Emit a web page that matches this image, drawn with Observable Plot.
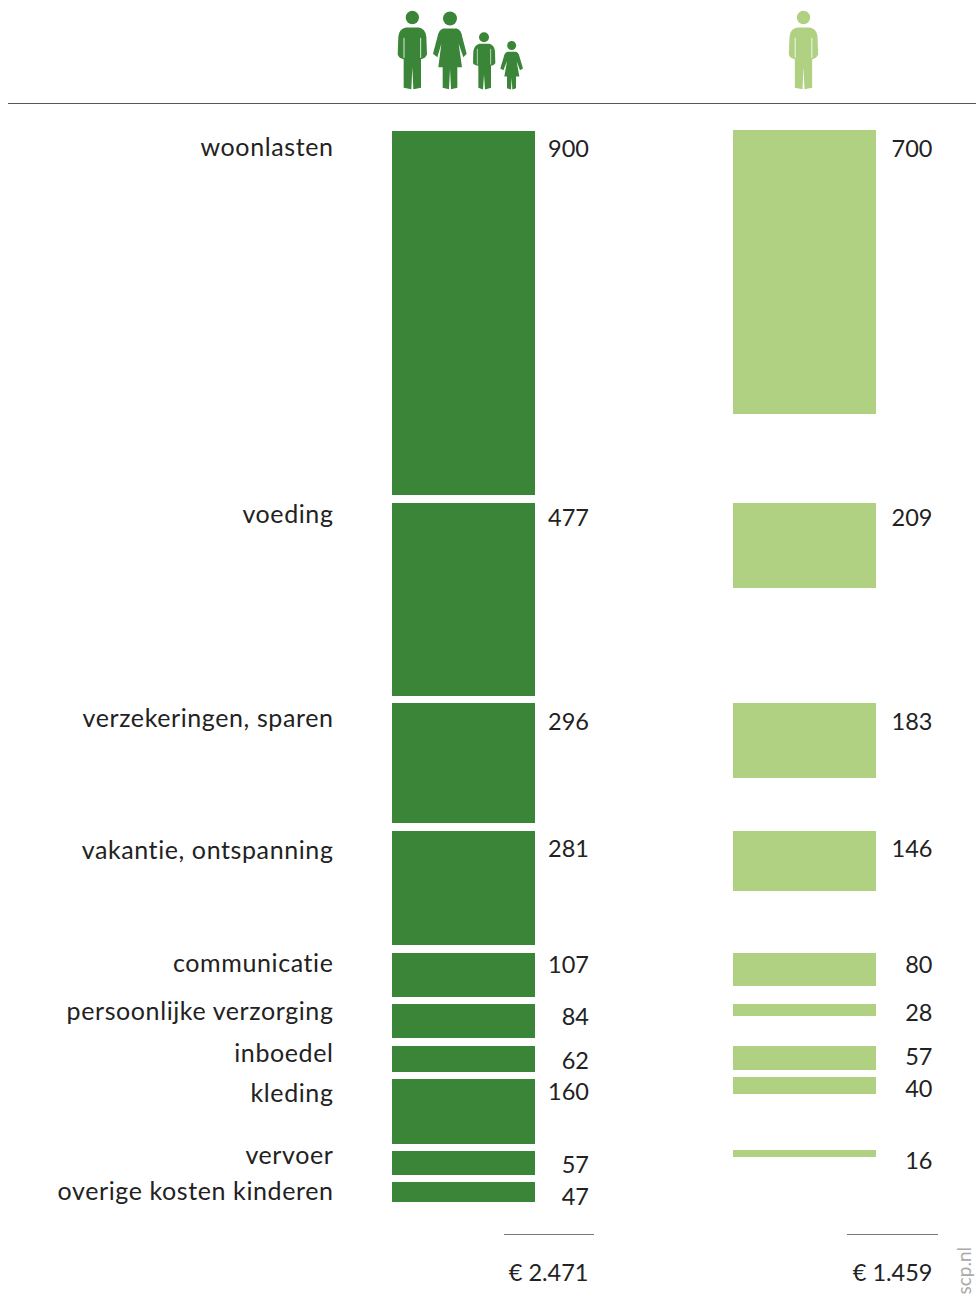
<!DOCTYPE html>
<html><head><meta charset="utf-8">
<style>html,body{margin:0;padding:0;background:#fff}svg{display:block}
.catlabel text{letter-spacing:0.6px;font-variant-ligatures:none}</style>
<script src="https://cdn.jsdelivr.net/npm/d3@7"></script>
<script src="https://cdn.jsdelivr.net/npm/@observablehq/plot@0.6"></script>
</head><body><div id="chart"></div>
<script>
// DATA
const categories = ["woonlasten","voeding","verzekeringen, sparen","vakantie, ontspanning","communicatie","persoonlijke verzorging","inboedel","kleding","vervoer","overige kosten kinderen"];
const gezin = [900,477,296,281,107,84,62,160,57,47];
const alleenstaand = [700,209,183,146,80,28,57,40,16,null];
const columns = ["gezin","alleenstaand"];
const totals = ["€ 2.471","€ 1.459"];

// LAYOUT (pixel offsets, kept apart from the data)
const k = 0.405, top0 = 131, gap = 7.7;
const rowShift = [0,0,-1,-1,0,0,0,0,0,0];
const rightBarShift = [-1,0,0,0,0,0,0,-2,-1,0];
const leftSizeFix = [-1,0,0,0,1,0,1,0,1,1];
const rightSizeFix = [0,0,1,1,1,1,1,1,1,0];
const labelCentre = [147,514.5,718,850,963,1011,1053,1093,1155,1191];
const leftValCentre = [149,518,722,849,965,1017,1061,1092,1165,1197];
const rightValCentre = [149,518,722,849,965,1013,1057,1089,1161,null];
const dark = "#3a8537", light = "#b0d182", ink = "#222";
const font = "Lato, sans-serif";
const u = px => (px - top0) / k;   // pixel row expressed in value units of the y scale

let cum = top0;
const rowTop = gezin.map((v,i) => { const t = Math.round(cum) + rowShift[i]; cum += v * k + gap; return t; });
const bars = [];
categories.forEach((c,i) => {
  bars.push({col:columns[0], y1:u(rowTop[i]), y2:u(rowTop[i] + Math.round(gezin[i]*k) + leftSizeFix[i]), fill:dark});
  if (alleenstaand[i] != null) {
    const t = rowTop[i] + rightBarShift[i];
    bars.push({col:columns[1], y1:u(t), y2:u(t + Math.round(alleenstaand[i]*k) + rightSizeFix[i]), fill:light});
  }
});

// Pictograms
const manBody = (f,dx=0) => `<g transform="translate(${dx} 0)" fill="${f}"><circle cx="97" cy="51" r="20"/><path d="M78 81H116Q136 84 139 108L141 162Q136 174 123 176V262L100 266L97 200L94 266L71 262V176Q57 174 53 162L55 108Q58 84 78 81Z"/><path d="M72 112V172M122 112V172" stroke="#fff" stroke-width="2.5" fill="none"/></g>`;
const family = `<svg xmlns="http://www.w3.org/2000/svg" viewBox="0 0 480 330" width="160" height="110">${manBody(dark)}<g fill="${dark}"><circle cx="210" cy="54" r="21"/><path d="M190 84H230Q244 88 247 110L260 160L250 170L236 130L246 200H232V262L213 266L210 205L207 266L188 262V200H175L184 130L172 170L159 160L172 110Q176 88 190 84Z"/><circle cx="312" cy="110" r="15"/><path d="M298 130H328Q343 134 345 152L346 188Q342 195 333 196V262L315 267L312 222L309 267L295 262V196Q283 195 279 188L280 152Q283 134 298 130Z"/><circle cx="395" cy="135" r="13.5"/><path d="M382 154H408Q416 157 419 170L429 204L420 209L410 182L418 228H408V263L397 267L395 232L393 267L381 263V228H373L381 182L370 209L361 204L371 170Q374 157 382 154Z"/></g><path d="M292 145V192M332 145V192" stroke="#fff" stroke-width="2" fill="none"/></svg>`;
const single = `<svg xmlns="http://www.w3.org/2000/svg" viewBox="0 0 200 330" width="66.67" height="110">${manBody(light,3)}</svg>`;
const uri = s => "data:image/svg+xml;charset=utf-8," + encodeURIComponent(s);
const icons = [
  {col:columns[0], src:uri(family)},
  {col:columns[1], src:uri(single)}
];

const labelBase = {fontFamily:font, fontSize:25, fill:ink, lineAnchor:"middle", className:"catlabel"};
const textBase = {fontFamily:font, fontSize:23.5, fill:ink, lineAnchor:"middle"};
const rows = categories.map((c,i)=>({c, l:gezin[i], r:alleenstaand[i], ly:u(labelCentre[i]), lv:u(leftValCentre[i]), rv:u(rightValCentre[i])}));

const plot = Plot.plot({
  width:976, height:1299, margin:0,
  style:{background:"#fff", overflow:"visible"},
  x:{type:"band", domain:columns, range:[392,876], paddingInner:198/341, paddingOuter:0, align:0.5, axis:null},
  y:{type:"linear", domain:[u(0),u(1299)], range:[0,1299], axis:null},
  marks:[
    Plot.barY(bars,{x:"col", y1:"y1", y2:"y2", fill:"fill"}),
    Plot.image(icons.slice(0,1),{x:"col", y:()=>u(55), src:"src", width:160, height:110, dx:-4}),
    Plot.image(icons.slice(1),{x:"col", y:()=>u(55), src:"src", width:66.67, height:110, dx:-1.5}),
    Plot.ruleY([u(103)],{stroke:"#555", strokeWidth:1, insetLeft:8}),
    Plot.ruleY([u(1234)],{stroke:"#777", strokeWidth:1, insetLeft:504, insetRight:382}),
    Plot.ruleY([u(1234)],{stroke:"#777", strokeWidth:1, insetLeft:847, insetRight:38}),
    Plot.text(rows,{x:()=>columns[0], y:"ly", text:"c", textAnchor:"end", dx:-130.5, ...labelBase}),
    Plot.text(rows,{x:()=>columns[0], y:"lv", text:"l", textAnchor:"end", dx:125, ...textBase}),
    Plot.text(rows.filter(d=>d.r!=null),{x:()=>columns[1], y:"rv", text:"r", textAnchor:"end", dx:127.5, ...textBase}),
    Plot.text([totals[0]],{x:()=>columns[0], y:()=>u(1273), text:d=>d, textAnchor:"end", dx:124.5, ...textBase}),
    Plot.text([totals[1]],{x:()=>columns[1], y:()=>u(1273), text:d=>d, textAnchor:"end", dx:127.5, ...textBase}),
    Plot.text(["scp.nl"],{x:()=>columns[1], y:()=>u(1294), text:d=>d, rotate:-90, textAnchor:"start", lineAnchor:"middle", dx:159.5, fontFamily:font, fontSize:19, fill:"#aaa"})
  ]
});
document.getElementById("chart").append(plot);
</script></body></html>
